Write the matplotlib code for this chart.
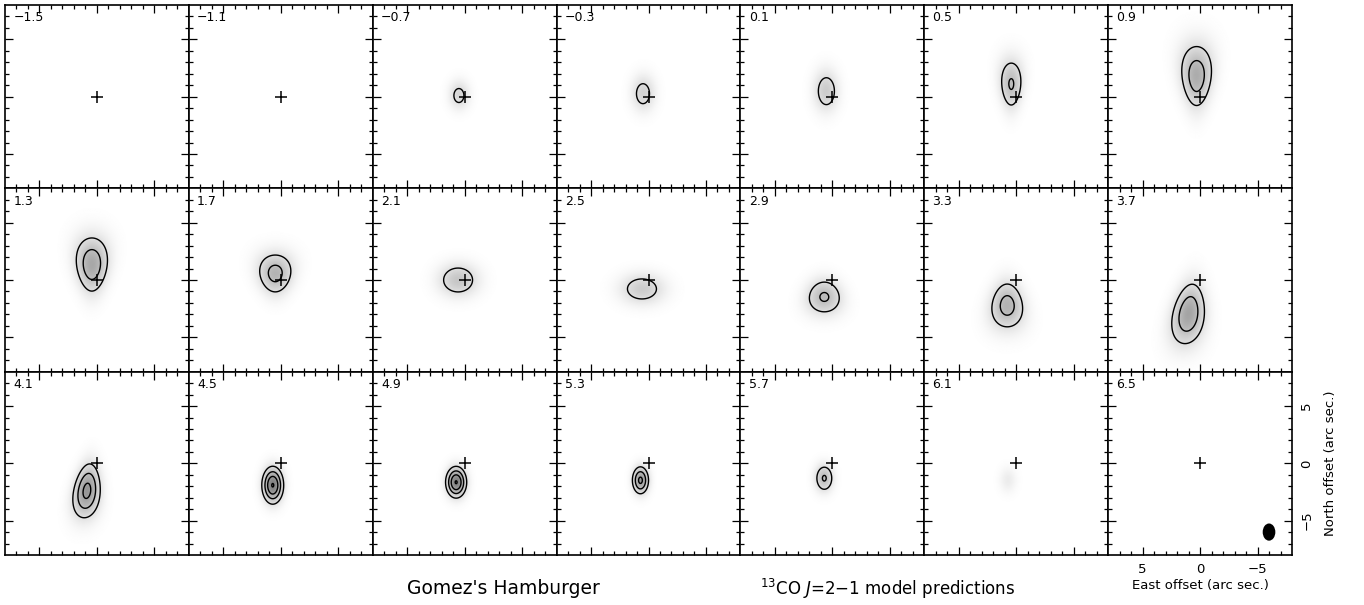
import numpy as np
import matplotlib
matplotlib.use('Agg')
import matplotlib.pyplot as plt
import matplotlib.patches as ptch

# channel velocities (km/s), one panel each
velocities = [-1.5, -1.1, -0.7, -0.3, 0.1, 0.5, 0.9,
              1.3, 1.7, 2.1, 2.5, 2.9, 3.3, 3.7,
              4.1, 4.5, 4.9, 5.3, 5.7, 6.1, 6.5]

# emission blob (arcsec, contour units)
peak = [0, 0, 1.3, 1.4, 1.6, 2.1, 2.6,
        2.75, 2.38, 1.8, 1.6, 2.14, 2.4, 2.85,
        3.3, 4.05, 4.05, 3.2, 2.1, 0.6, 0]
x_off = [0, 0, 0.50, 0.48, 0.52, 0.43, 0.30,
         0.44, 0.48, 0.57, 0.57, 0.70, 0.78, 1.00,
         0.87, 0.70, 0.74, 0.70, 0.70, 0.70, 0]
y_off = [0, 0, 0.10, 0.26, 0.48, 1.10, 1.80,
         1.35, 0.57, 0.00, -0.78, -1.48, -2.22, -2.96,
         -2.40, -1.91, -1.65, -1.48, -1.30, -1.48, 0]
sig_x = [1, 1, 0.60, 0.69, 0.72, 0.68, 0.92,
         0.94, 1.02, 1.16, 1.30, 1.05, 1.0, 0.95,
         0.75, 0.57, 0.55, 0.46, 0.53, 0.50, 1]
sig_y = [1, 1, 0.84, 1.06, 1.21, 1.50, 1.86,
         1.63, 1.22, 0.96, 0.90, 1.05, 1.41, 1.79,
         1.52, 0.99, 0.83, 0.77, 0.79, 0.75, 1]
taper = [0, 0, 0, 0, 0, 0.1, 0.13,
         0.12, 0.1, 0, 0, -0.06, -0.11, -0.1,
         -0.1, 0, 0, 0, 0, 0, 0]
shear = [0, 0, 0, 0, 0, 0, 0,
         0, 0, 0, 0, 0, 0, -0.12,
         -0.1, 0, 0, 0, 0, 0, 0]

levels = [1, 2, 3, 4]
beam = (-6.0, -6.0, 1.1, 1.5)  # x, y, width, height (arcsec)

# grid
g = np.linspace(-8, 8, 321)
X, Y = np.meshgrid(g, g)

W, H = 1364, 605
fig = plt.figure(figsize=(W / 100, H / 100), dpi=100)
left, right, top, bottom = 5, 1292, 5, 555
pw = (right - left) / 7.
ph = (bottom - top) / 3.

for i, v in enumerate(velocities):
    r, c = divmod(i, 7)
    ax = fig.add_axes([(left + c * pw) / W, 1 - (top + (r + 1) * ph) / H, pw / W, ph / H])

    if peak[i] > 0:
        sx = sig_x[i] * (1 + taper[i] * (Y - y_off[i]) / sig_y[i])
        sx = np.clip(sx, 0.5 * sig_x[i], 1.6 * sig_x[i])
        xc = x_off[i] + shear[i] * (Y - y_off[i])
        Z = peak[i] * np.exp(-0.5 * ((X - xc) / sx) ** 2 - 0.5 * ((Y - y_off[i]) / sig_y[i]) ** 2)
        ax.imshow(Z, extent=(-8, 8, -8, 8), origin='lower', cmap='gray_r',
                  vmin=0, vmax=8.0, interpolation='bilinear', aspect='auto')
        if Z.max() > levels[0]:
            ax.contour(X, Y, Z, levels=levels, colors='k', linewidths=1.0)

    ax.plot(0, 0, '+', color='k', ms=8, mew=1.1)
    ax.text(0.045, 0.965, '%.1f' % v if v >= 0 else '\u2212%.1f' % abs(v),
            transform=ax.transAxes, ha='left', va='top', fontsize=9)

    ax.set_xlim(8, -8)
    ax.set_ylim(-8, 8)
    ax.set_xticks([5, 0, -5])
    ax.set_yticks([-5, 0, 5])
    ax.set_xticks(np.arange(-7, 8, 1), minor=True)
    ax.set_yticks(np.arange(-7, 8, 1), minor=True)
    ax.tick_params(which='both', direction='in', top=True, right=True, width=0.9)
    ax.tick_params(which='major', length=6)
    ax.tick_params(which='minor', length=3.2)
    for s in ax.spines.values():
        s.set_linewidth(1.2)

    if i == len(velocities) - 1:
        ax.add_patch(ptch.Ellipse(beam[:2], beam[2], beam[3], facecolor='k'))
        ax.set_xticklabels(['5', '0', '\u22125'], fontsize=9.5)
        ax.set_yticklabels(['\u22125', '0', '5'], fontsize=9.5, rotation=90, va='center')
        ax.yaxis.tick_right()
        ax.tick_params(which='both', left=True, labelleft=False, labelright=True, pad=6)
        ax.yaxis.set_label_position('right')
        ax.set_xlabel('East offset (arc sec.)', fontsize=9.5, labelpad=2)
        ax.set_ylabel('North offset (arc sec.)', fontsize=9.5, labelpad=8)
    else:
        ax.set_xticklabels([])
        ax.set_yticklabels([])

fig.text(503 / W, 1 - 589 / H, "Gomez's Hamburger", ha='center', va='center', fontsize=13.5)
fig.text(888 / W, 1 - 589 / H, r"$^{13}$CO $J$=2$-$1 model predictions",
         ha='center', va='center', fontsize=12)

fig.savefig('out.png', dpi=100)
